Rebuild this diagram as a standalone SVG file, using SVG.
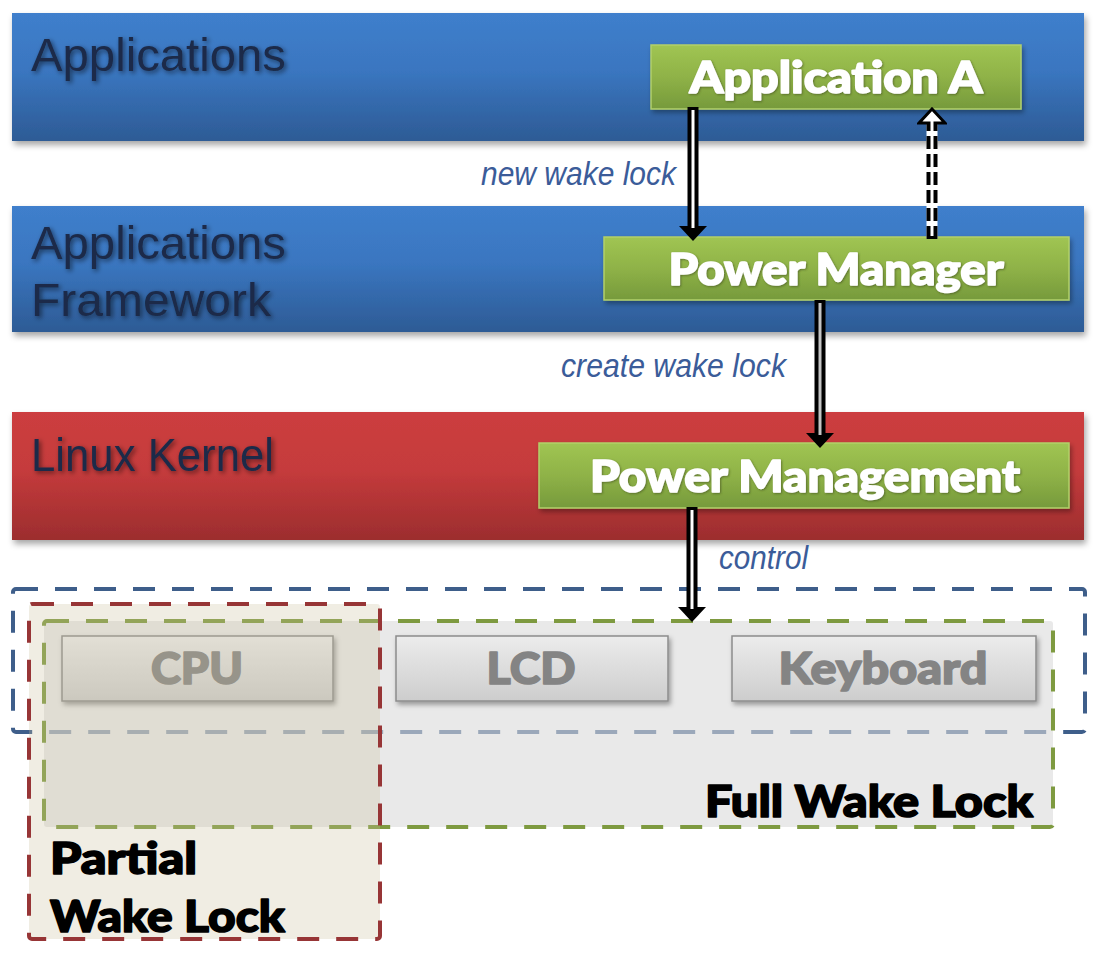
<svg xmlns="http://www.w3.org/2000/svg" width="1106" height="954" viewBox="0 0 1106 954">
<defs>
  <linearGradient id="gBlue" x1="0" y1="0" x2="0" y2="1">
    <stop offset="0" stop-color="#3f7fcc"/>
    <stop offset="0.45" stop-color="#3a76c0"/>
    <stop offset="1" stop-color="#2d5b95"/>
  </linearGradient>
  <linearGradient id="gRed" x1="0" y1="0" x2="0" y2="1">
    <stop offset="0" stop-color="#cc3e3f"/>
    <stop offset="0.45" stop-color="#c53b3c"/>
    <stop offset="1" stop-color="#9c2d2e"/>
  </linearGradient>
  <linearGradient id="gGreen" x1="0" y1="0" x2="0" y2="1">
    <stop offset="0" stop-color="#a0c553"/>
    <stop offset="0.5" stop-color="#8fb247"/>
    <stop offset="1" stop-color="#769a3c"/>
  </linearGradient>
  <linearGradient id="gGray" x1="0" y1="0" x2="0" y2="1">
    <stop offset="0" stop-color="#ececec"/>
    <stop offset="1" stop-color="#cdcdcd"/>
  </linearGradient>
  <filter id="shBand" x="-5%" y="-20%" width="110%" height="150%">
    <feDropShadow dx="2" dy="4" stdDeviation="3" flood-color="#000" flood-opacity="0.35"/>
  </filter>
  <filter id="shBox" x="-5%" y="-20%" width="110%" height="150%">
    <feDropShadow dx="2" dy="3" stdDeviation="2.5" flood-color="#000" flood-opacity="0.35"/>
  </filter>
  <filter id="shText" x="-10%" y="-30%" width="120%" height="160%">
    <feDropShadow dx="2" dy="2" stdDeviation="2.5" flood-color="#000" flood-opacity="0.55"/>
  </filter>
  <filter id="shWhite" x="-10%" y="-30%" width="120%" height="160%">
    <feDropShadow dx="1" dy="1" stdDeviation="1" flood-color="#3a4a20" flood-opacity="0.6"/>
  </filter>
  <marker id="head" viewBox="0 -14 15 28" markerWidth="15" markerHeight="28" refX="0" refY="0" orient="auto" markerUnits="userSpaceOnUse">
    <path d="M0,-14 L15,0 L0,14 Z" fill="#000"/>
  </marker>
  <marker id="headOpen" viewBox="-2 -15 18 30" markerWidth="18" markerHeight="30" refX="0" refY="0" orient="auto" markerUnits="userSpaceOnUse">
    <path d="M0,-13 L14,0 L0,13 Z" fill="#fff" stroke="#000" stroke-width="3" stroke-linejoin="miter"/>
  </marker>
  <style>
    .band-label { font-family: "Liberation Sans", Arial, sans-serif; font-size: 47px; fill: #1b2a48; }
    .green-box { fill: url(#gGreen); stroke: #b2d06a; stroke-width: 1.5; }
    .green-label { font-family: Lato, "Open Sans", sans-serif; font-weight: 900; font-size: 44px; fill: #ffffff; stroke: #ffffff; stroke-width: 1.6; stroke-linejoin: round; }
    .gray-box { fill: url(#gGray); stroke: #8c8c8c; stroke-width: 1.5; }
    .gray-label { font-family: Lato, "Open Sans", sans-serif; font-weight: 900; font-size: 43px; fill: #848484; stroke: #848484; stroke-width: 1.6; stroke-linejoin: round; }
    .lock-label { font-family: Lato, "Open Sans", sans-serif; font-weight: 900; font-size: 43px; fill: #000000; stroke: #000000; stroke-width: 1.6; stroke-linejoin: round; }
    .edge-label { font-family: "Liberation Sans", Arial, sans-serif; font-style: italic; font-size: 33px; fill: #3b5c99; }
    .dash { stroke-width: 4; stroke-dasharray: 22 17; }
    .arrow-outer { stroke: #000; stroke-width: 11; fill: none; marker-end: url(#head); }
    .arrow-core { stroke: #fff; stroke-width: 3; fill: none; }
  </style>
</defs>

<rect width="1106" height="954" fill="#ffffff"/>

<!-- Layer bands -->
<g id="band-applications">
  <rect x="12" y="13" width="1072" height="128" fill="url(#gBlue)" filter="url(#shBand)"/>
  <text class="band-label" x="31" y="71" textLength="255" lengthAdjust="spacingAndGlyphs" filter="url(#shText)">Applications</text>
</g>
<g id="band-framework">
  <rect x="12" y="206" width="1072" height="126" fill="url(#gBlue)" filter="url(#shBand)"/>
  <text class="band-label" x="31" y="259" textLength="255" lengthAdjust="spacingAndGlyphs" filter="url(#shText)">Applications</text>
  <text class="band-label" x="31" y="316" textLength="240" lengthAdjust="spacingAndGlyphs" filter="url(#shText)">Framework</text>
</g>
<g id="band-kernel">
  <rect x="12" y="412" width="1072" height="128" fill="url(#gRed)" filter="url(#shBand)"/>
  <text class="band-label" x="31" y="471" textLength="243" lengthAdjust="spacingAndGlyphs" filter="url(#shText)">Linux Kernel</text>
</g>

<!-- Component boxes -->
<g id="node-application-a">
  <rect class="green-box" x="651" y="45" width="370" height="64" filter="url(#shBox)"/>
  <text class="green-label" x="836" y="93" text-anchor="middle" textLength="293" lengthAdjust="spacingAndGlyphs" filter="url(#shWhite)">Application A</text>
</g>
<g id="node-power-manager">
  <rect class="green-box" x="604" y="237" width="465" height="63" filter="url(#shBox)"/>
  <text class="green-label" x="836" y="285" text-anchor="middle" textLength="335" lengthAdjust="spacingAndGlyphs" filter="url(#shWhite)">Power Manager</text>
</g>
<g id="node-power-management">
  <rect class="green-box" x="539" y="443" width="530" height="65" filter="url(#shBox)"/>
  <text class="green-label" x="805" y="492" text-anchor="middle" textLength="430" lengthAdjust="spacingAndGlyphs" filter="url(#shWhite)">Power Management</text>
</g>

<!-- Hardware region -->
<g id="group-hardware">
  <rect class="dash" x="13" y="589" width="1072" height="143" rx="3" fill="none" stroke="#3e5e8a"/>
</g>
<g id="group-full-wake-lock">
  <rect class="dash" x="44" y="621" width="1009" height="206" rx="3" fill="#dadada" fill-opacity="0.6" stroke="#7e9a40"/>
</g>
<g id="node-cpu">
  <rect class="gray-box" x="62" y="636" width="271" height="65" filter="url(#shBox)"/>
  <text class="gray-label" x="197" y="684" text-anchor="middle" textLength="92" lengthAdjust="spacingAndGlyphs">CPU</text>
</g>
<g id="node-lcd">
  <rect class="gray-box" x="396" y="636" width="272" height="65" filter="url(#shBox)"/>
  <text class="gray-label" x="531" y="684" text-anchor="middle" textLength="89" lengthAdjust="spacingAndGlyphs">LCD</text>
</g>
<g id="node-keyboard">
  <rect class="gray-box" x="732" y="636" width="304" height="65" filter="url(#shBox)"/>
  <text class="gray-label" x="883" y="684" text-anchor="middle" textLength="209" lengthAdjust="spacingAndGlyphs">Keyboard</text>
</g>
<g id="label-full-wake-lock">
  <text class="lock-label" x="705" y="817" textLength="328" lengthAdjust="spacingAndGlyphs">Full Wake Lock</text>
</g>
<g id="group-partial-wake-lock">
  <rect class="dash" x="29" y="604" width="351" height="335" rx="3" fill="#c8c09a" fill-opacity="0.28" stroke="#973536"/>
  <text class="lock-label" x="50" y="874" textLength="147" lengthAdjust="spacingAndGlyphs">Partial</text>
  <text class="lock-label" x="50" y="932" textLength="235" lengthAdjust="spacingAndGlyphs">Wake Lock</text>
</g>

<!-- Connectors -->
<g id="connectors">
  <g id="edge-new-wake-lock">
    <path class="arrow-outer" d="M693,107 L693,226"/>
    <path class="arrow-core" d="M693,110 L693,228"/>
    <text class="edge-label" x="481" y="185" textLength="195" lengthAdjust="spacingAndGlyphs">new wake lock</text>
  </g>
  <g id="edge-return">
    <path d="M932,239 L932,123" stroke="#fff" stroke-width="11" fill="none"/>
    <path d="M932,239 L932,123" stroke="#000" stroke-width="11" stroke-dasharray="13 5" fill="none" marker-end="url(#headOpen)"/>
    <path d="M932,236 L932,121" stroke="#fff" stroke-width="3" fill="none"/>
  </g>
  <g id="edge-create-wake-lock">
    <path class="arrow-outer" d="M820,300 L820,433"/>
    <path d="M820,303 L820,435" stroke="#c4c4c4" stroke-width="3" fill="none"/>
    <text class="edge-label" x="561" y="377" textLength="225" lengthAdjust="spacingAndGlyphs">create wake lock</text>
  </g>
  <g id="edge-control">
    <path class="arrow-outer" d="M692,507 L692,607"/>
    <path class="arrow-core" d="M692,510 L692,609"/>
    <text class="edge-label" x="719" y="569" textLength="89" lengthAdjust="spacingAndGlyphs">control</text>
  </g>
</g>
</svg>
